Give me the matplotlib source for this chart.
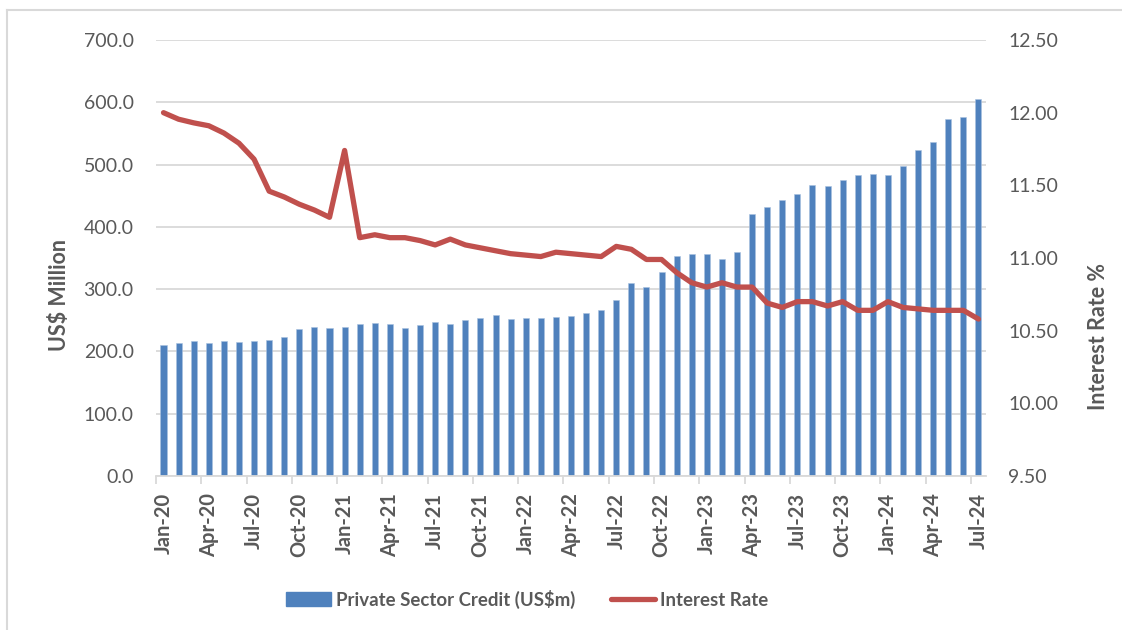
import matplotlib.pyplot as plt
import numpy as np
from matplotlib.lines import Line2D

plt.rcParams['font.family'] = ['Lato', 'DejaVu Sans']

years = ['20', '21', '22', '23', '24']
mon = ['Jan', 'Feb', 'Mar', 'Apr', 'May', 'Jun', 'Jul', 'Aug', 'Sep', 'Oct', 'Nov', 'Dec']
months = [m + '-' + y for y in years for m in mon][:55]

credit = [211, 213, 217, 214, 216, 215, 216, 218, 224, 236, 239, 238,
          240, 244, 246, 244, 238, 242, 248, 244, 251, 253, 259, 252,
          253, 253, 255, 257, 261, 266, 283, 310, 303, 328, 354, 356,
          356, 349, 360, 420, 432, 443, 452, 467, 465, 475, 483, 485,
          484, 498, 524, 537, 573, 576, 605]

rate = [12.00, 11.955, 11.93, 11.91, 11.86, 11.79, 11.68, 11.46, 11.42, 11.37, 11.33, 11.28,
        11.74, 11.14, 11.16, 11.14, 11.14, 11.12, 11.09, 11.13, 11.09, 11.07, 11.05, 11.03,
        11.02, 11.01, 11.04, 11.03, 11.02, 11.01, 11.08, 11.06, 10.99, 10.99, 10.90, 10.83,
        10.80, 10.83, 10.80, 10.80, 10.69, 10.66, 10.70, 10.70, 10.67, 10.70, 10.64, 10.64,
        10.70, 10.66, 10.65, 10.64, 10.64, 10.64, 10.58]

txt = '#595959'
bar_c = '#4F81BD'
line_c = '#C0504D'
grid_c = '#D9D9D9'

fig = plt.figure(figsize=(11.22, 6.30), dpi=100)
ax = fig.add_axes([0.139, 0.2444, 0.7398, 0.6921])
ax2 = ax.twinx()

x = np.arange(len(months))
ax.bar(x, credit, width=0.4, color=bar_c, edgecolor='#A9C1E0', linewidth=0.4, zorder=2)
ax2.plot(x, rate, color=line_c, linewidth=3.8, solid_capstyle='round', zorder=3)

ax.set_xlim(-0.5, len(months) - 0.5)
ax.set_ylim(0, 700)
ax.set_yticks(np.arange(0, 701, 100))
ax.set_yticklabels([f'{v:.1f}' for v in np.arange(0, 701, 100)])
ax2.set_ylim(9.5, 12.5)
ax2.set_yticks(np.arange(9.5, 12.51, 0.5))
ax2.set_yticklabels([f'{v:.2f}' for v in np.arange(9.5, 12.51, 0.5)])

ax.grid(axis='y', color=grid_c, linewidth=1.3, zorder=0)
ax.set_axisbelow(True)

# labels on bars, tick marks on the month boundaries
ax.set_xticks(x[::3])
ax.set_xticklabels(months[::3], rotation=90, fontweight='bold', fontsize=14.5, color=txt)
ax.tick_params(axis='x', which='major', length=0, pad=12)
ax.set_xticks(np.arange(-0.5, len(months) - 0.5, 3), minor=True)
ax.tick_params(axis='x', which='minor', length=6, color=grid_c, width=1.3)

ax.tick_params(axis='y', length=0, pad=16, labelsize=14, labelcolor=txt)
ax2.tick_params(axis='y', length=0, pad=16, labelsize=14, labelcolor=txt)

for s in ['top', 'right', 'left']:
    ax.spines[s].set_visible(False)
    ax2.spines[s].set_visible(False)
ax.spines['bottom'].set_color(grid_c)
ax.spines['bottom'].set_linewidth(1.3)
ax2.spines['bottom'].set_visible(False)

ax.set_ylabel('US$ Million', fontsize=15.5, fontweight='bold', color=txt)
ax.yaxis.set_label_coords(-0.104, 0.415)
ax2.set_ylabel('Interest Rate %', fontsize=15.5, fontweight='bold', color=txt)
ax2.yaxis.set_label_coords(1.123, 0.319)

handles = [plt.Rectangle((0, 0), 1, 1, color=bar_c),
           Line2D([0], [0], color=line_c, linewidth=3.8, solid_capstyle='round')]
fig.legend(handles, ['Private Sector Credit (US$m)', 'Interest Rate'],
           loc='center', bbox_to_anchor=(0.47, 0.049), ncol=2, frameon=False,
           prop={'weight': 'bold', 'size': 13.4}, labelcolor=txt,
           handlelength=2.4, handleheight=0.75, handletextpad=0.27, columnspacing=1.9)

# outer frame, only the left and top edges show in the reference
fig.add_artist(Line2D([7 / 1122, 7 / 1122], [0, 1 - 10 / 630], color=grid_c, linewidth=1.5))
fig.add_artist(Line2D([7 / 1122, 1], [1 - 10 / 630, 1 - 10 / 630], color=grid_c, linewidth=1.5))

fig.savefig('out.png', dpi=100)
